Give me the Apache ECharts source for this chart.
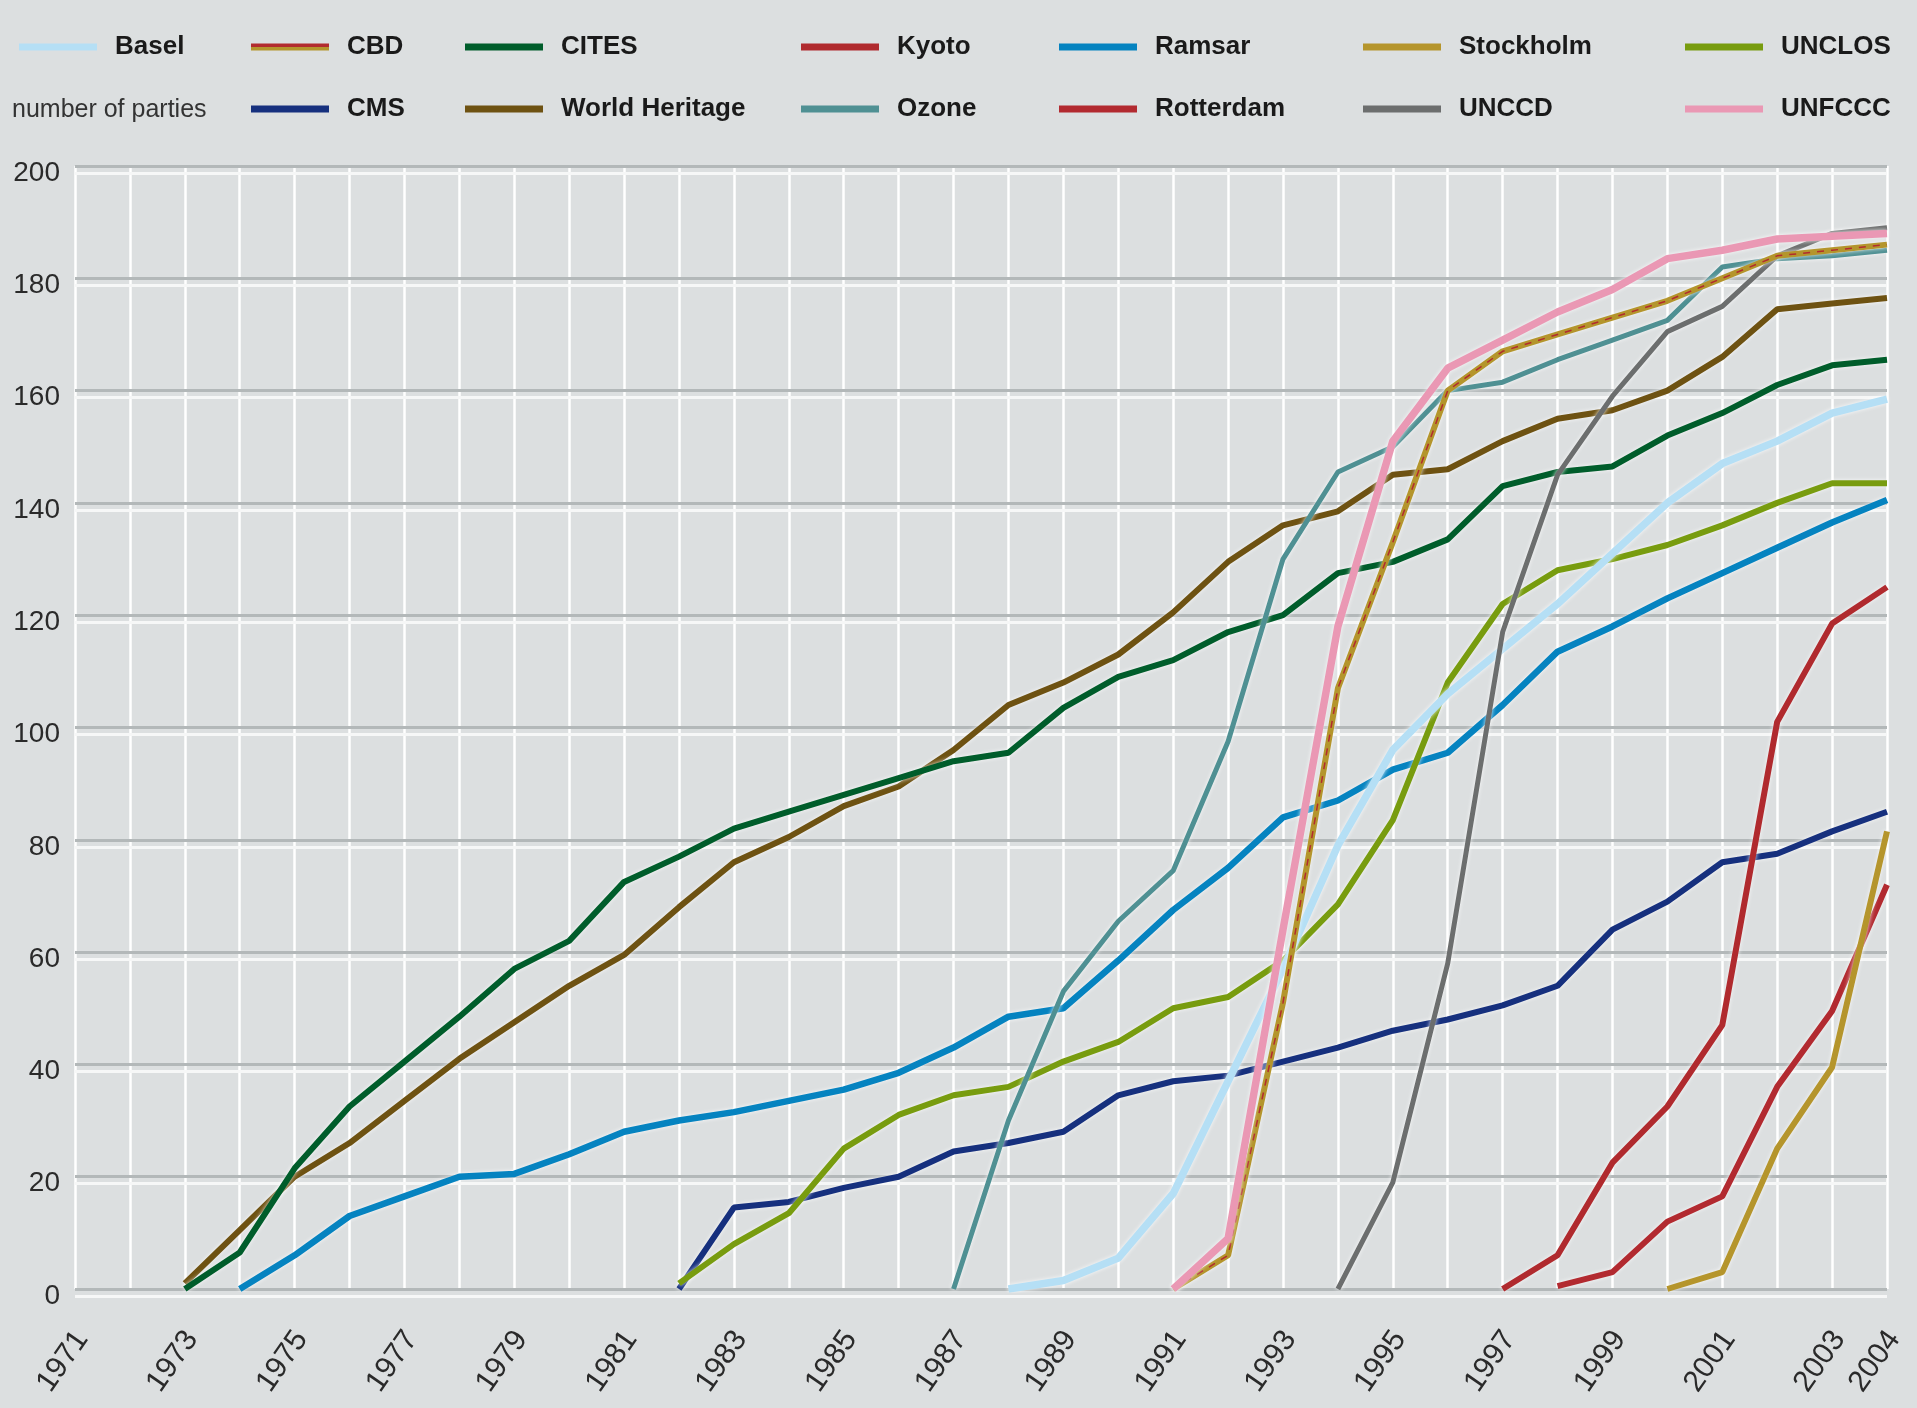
<!DOCTYPE html>
<html>
<head>
<meta charset="utf-8">
<script src="https://cdn.jsdelivr.net/npm/echarts@6/dist/echarts.min.js"></script>
<style>
html, body { margin: 0; padding: 0; background: #dcdfe0; }
#main { width: 1917px; height: 1408px; }
</style>
</head>
<body>
<div id="main"></div>
<script>
// number of parties per convention, one value per year from the first year
var baselFrom = 1988;
var basel = [0, 1.5, 5.5, 17, 37, 57, 79, 96, 106, 114, 122, 131, 140, 147, 151, 156, 158.5];
var cbdFrom = 1991;
var cbd = [0, 6, 51, 107, 133, 160, 167, 170, 173, 176, 180, 184, 185, 186];
var citesFrom = 1973;
var cites = [0, 6.5, 21.5, 32.5, 40.5, 48.5, 57, 62, 72.5, 77, 82, 85, 88, 91, 94, 95.5, 103.5, 109, 112, 117, 120,
    127.5, 129.5, 133.5, 143, 145.5, 146.5, 152, 156, 161, 164.5, 165.5];
var kyotoFrom = 1997;
var kyoto = [0, 6, 22.5, 32.5, 47, 101, 118.5, 125];
var cmsFrom = 1982;
var cms = [0, 14.5, 15.5, 18, 20, 24.5, 26, 28, 34.5, 37, 38, 40.5, 43, 46, 48, 50.5, 54, 64, 69, 76, 77.5, 81.5, 85];
var heritageFrom = 1973;
var heritage = [1, 10.5, 20, 26, 33.5, 41, 47.5, 54, 59.5, 68, 76, 80.5, 86, 89.5, 96, 104, 108, 113, 120.5, 129.5,
    136, 138.5, 145, 146, 151, 155, 156.5, 160, 166, 174.5, 175.5, 176.5];
var ozoneFrom = 1987;
var ozone = [0, 30, 53, 65.5, 74.5, 97.5, 130, 145.5, 150, 160, 161.5, 165.5, 169, 172.5, 182, 183.5, 184, 185];
var ramsarFrom = 1974;
var ramsar = [0, 6, 13, 16.5, 20, 20.5, 24, 28, 30, 31.5, 33.5, 35.5, 38.5, 43, 48.5, 50, 58.5, 67.5, 75, 84, 87,
    92.5, 95.5, 104, 113.5, 118, 123, 127.5, 132, 136.5, 140.5];
var rotterdamFrom = 1998;
var rotterdam = [0.5, 3, 12, 16.5, 36, 49.5, 72];
var stockholmFrom = 2000;
var stockholm = [0, 3, 25, 39.5, 81.5];
var unccdFrom = 1994;
var unccd = [0, 19, 58, 117, 145, 159, 170.5, 175, 184, 188, 189];
var unclosFrom = 1982;
var unclos = [1, 8, 13.5, 25, 31, 34.5, 36, 40.5, 44, 50, 52, 58.5, 68.5, 83.5, 108, 122, 128, 130, 132.5, 136,
    140, 143.5, 143.5];
var unfcccFrom = 1991;
var unfccc = [0, 9, 64, 118, 151, 164, 169, 174, 178, 183.5, 185, 187, 187.5, 188];

var firstYear = 1971, lastYear = 2004;

var FONT = '"Liberation Sans Narrow", "Liberation Sans", Arial, sans-serif';

function pairs(from, vals) {
    return vals.map(function (v, i) { return [from + i, v]; });
}

function line(name, from, vals, color, width) {
    return {
        name: name,
        type: 'line',
        xAxisIndex: 0,
        yAxisIndex: 0,
        symbol: 'none',
        animation: false,
        emphasis: { disabled: true },
        itemStyle: { color: color },
        lineStyle: {
            color: color,
            width: width,
            shadowColor: 'rgba(255,255,255,0.85)',
            shadowBlur: 4
        },
        data: pairs(from, vals)
    };
}

var chart = echarts.init(document.getElementById('main'));

var legendBase = {
    orient: 'vertical',
    top: 30,
    padding: 0,
    itemGap: 28,
    itemWidth: 78,
    itemHeight: 7,
    icon: 'rect',
    selectedMode: false,
    textStyle: {
        fontFamily: FONT,
        fontSize: 26,
        fontWeight: 'bold',
        color: '#1a1a1a',
        lineHeight: 34,
        padding: [0, 0, 0, 13]
    }
};
function legendCol(left, data) {
    var l = {};
    for (var k in legendBase) l[k] = legendBase[k];
    l.left = left;
    l.data = data;
    return l;
}

var cbdIcon = new echarts.graphic.LinearGradient(0, 0, 0, 1, [
    { offset: 0, color: '#b22b2e' }, { offset: 0.5, color: '#b22b2e' },
    { offset: 0.5, color: '#b4952c' }, { offset: 1, color: '#b4952c' }
]);

var cbdStripe = line('CBD stripe', cbdFrom, cbd, '#b22b2e', 1.5);
cbdStripe.lineStyle.type = [7, 7];
cbdStripe.lineStyle.shadowBlur = 0;

var option = {
    backgroundColor: '#dcdfe0',
    animation: false,
    title: {
        text: 'number of parties',
        left: 12,
        top: 96,
        padding: 0,
        textStyle: {
            fontFamily: FONT,
            fontSize: 25,
            fontWeight: 'normal',
            color: '#333',
            lineHeight: 28
        }
    },
    legend: [
        legendCol(19, ['Basel']),
        legendCol(251, [{ name: 'CBD', itemStyle: { color: cbdIcon } }, 'CMS']),
        legendCol(465, ['CITES', 'World Heritage']),
        legendCol(801, ['Kyoto', 'Ozone']),
        legendCol(1059, ['Ramsar', 'Rotterdam']),
        legendCol(1363, ['Stockholm', 'UNCCD']),
        legendCol(1685, ['UNCLOS', 'UNFCCC'])
    ],
    grid: [
        // plot area
        { left: 75, right: 30, top: 166, bottom: 119 },
        // white under-lines and y labels, a few px lower
        { left: 75, right: 30, top: 173, bottom: 112 },
        // year labels, nudged right of their grid lines
        { left: 82, right: 23, top: 166, bottom: 119 }
    ],
    xAxis: [
        {
            gridIndex: 0,
            type: 'value',
            min: firstYear,
            max: lastYear,
            interval: 1,
            axisLine: { show: false },
            axisTick: { show: false },
            axisLabel: { show: false },
            splitLine: { show: true, lineStyle: { color: '#ffffff', width: 2.5 } }
        },
        {
            gridIndex: 1,
            type: 'value',
            min: firstYear,
            max: lastYear,
            show: false
        },
        {
            gridIndex: 2,
            type: 'value',
            min: firstYear,
            max: lastYear,
            interval: 1,
            axisLine: { show: false },
            axisTick: { show: false },
            splitLine: { show: false },
            axisLabel: {
                rotate: 55,
                margin: 45,
                fontFamily: FONT,
                fontSize: 30,
                color: '#2a2a2a',
                formatter: function (v) {
                    return (v % 2 === 1 || v === lastYear) ? String(v) : '';
                }
            }
        }
    ],
    yAxis: [
        {
            gridIndex: 0,
            type: 'value',
            min: 0,
            max: 200,
            interval: 20,
            z: 1,
            axisLine: { show: false },
            axisTick: { show: false },
            axisLabel: { show: false },
            splitLine: { show: true, lineStyle: { color: '#b3b8b9', width: 3 } }
        },
        {
            gridIndex: 1,
            type: 'value',
            min: 0,
            max: 200,
            interval: 20,
            z: 1,
            axisLine: { show: false },
            axisTick: { show: false },
            axisLabel: {
                margin: 15,
                fontFamily: FONT,
                fontSize: 28,
                color: '#2a2a2a'
            },
            splitLine: { show: true, lineStyle: { color: '#f6f7f7', width: 3 } }
        },
        {
            gridIndex: 2,
            type: 'value',
            min: 0,
            max: 200,
            show: false
        }
    ],
    series: [
        line('World Heritage', heritageFrom, heritage, '#6e5212', 6),
        line('CITES', citesFrom, cites, '#005d2b', 6),
        line('Ramsar', ramsarFrom, ramsar, '#0583c0', 6.5),
        line('CMS', cmsFrom, cms, '#16307e', 6),
        line('UNCLOS', unclosFrom, unclos, '#789c0f', 6),
        line('Ozone', ozoneFrom, ozone, '#4f9093', 5),
        line('Basel', baselFrom, basel, '#b5dff5', 7.5),
        line('UNCCD', unccdFrom, unccd, '#6c6e6e', 5),
        line('CBD', cbdFrom, cbd, '#b4952c', 6),
        cbdStripe,
        line('UNFCCC', unfcccFrom, unfccc, '#ea98b4', 7.5),
        line('Kyoto', kyotoFrom, kyoto, '#b02a2e', 6),
        line('Rotterdam', rotterdamFrom, rotterdam, '#b22a30', 6),
        line('Stockholm', stockholmFrom, stockholm, '#b5952c', 6)
    ]
};

chart.setOption(option);
</script>
</body>
</html>
